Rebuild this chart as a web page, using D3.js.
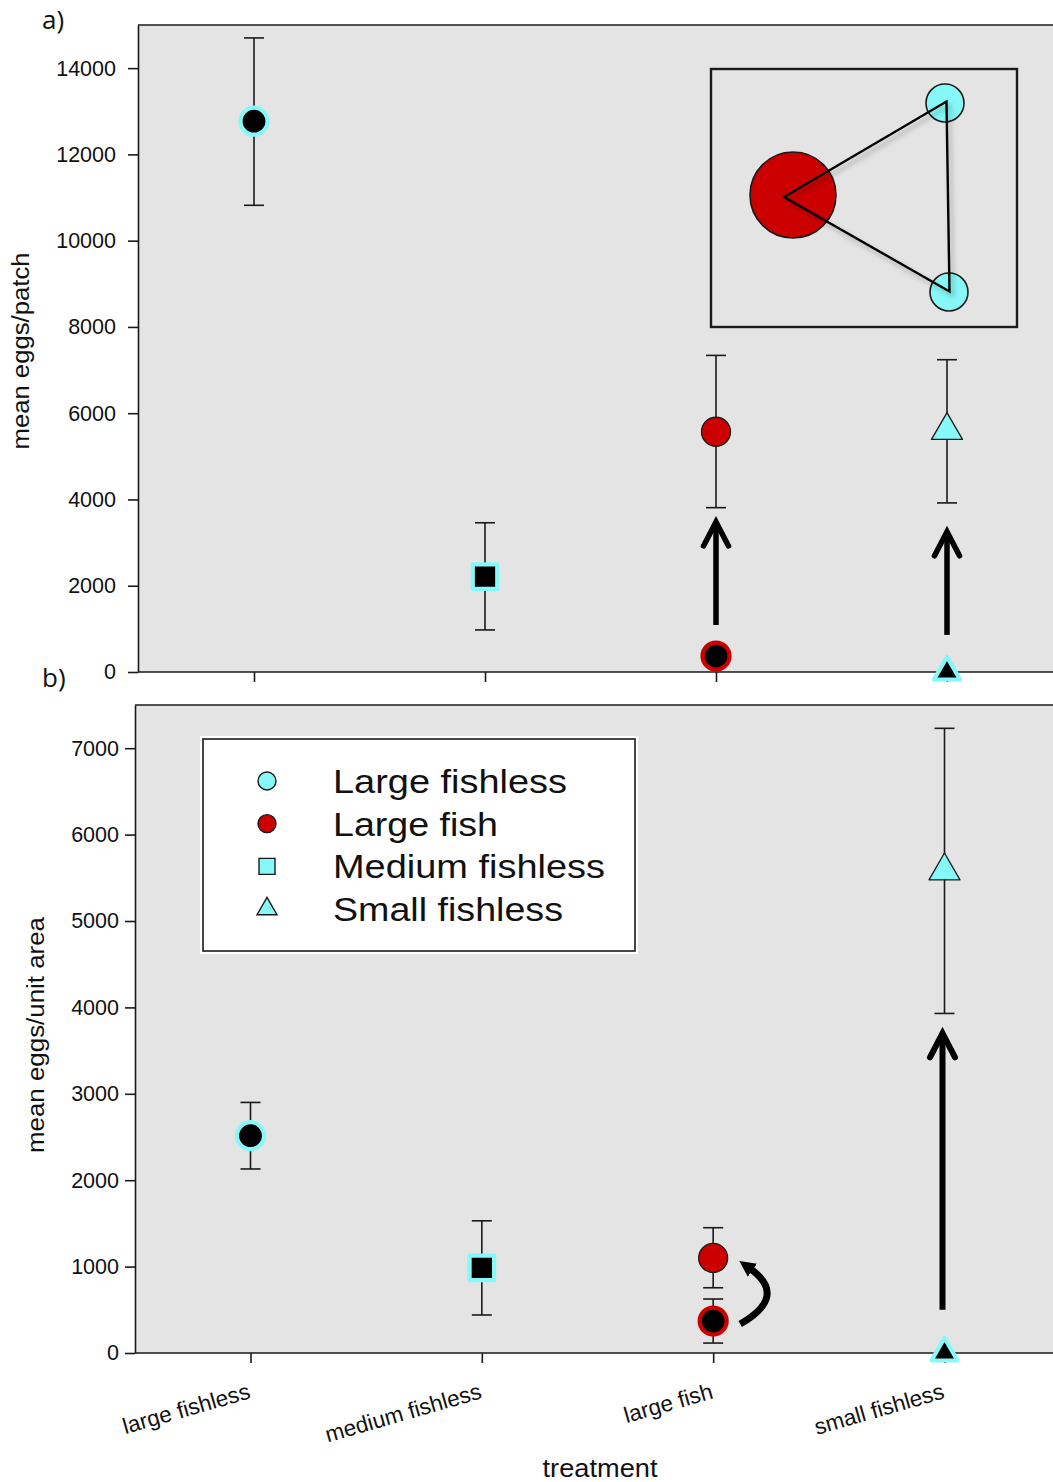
<!DOCTYPE html>
<html>
<head>
<meta charset="utf-8">
<script src="https://cdn.jsdelivr.net/npm/d3@7"></script>
<style>
  html, body { margin: 0; padding: 0; background: #ffffff; }
  svg { display: block; }
  text { font-family: "Liberation Sans", Arial, Helvetica, sans-serif; fill: #111; }
</style>
</head>
<body>
<svg id="chart" width="1053" height="1482"></svg>
<script>
// ---- data -------------------------------------------------------------
const treatments = ["large fishless", "medium fishless", "large fish", "small fishless"];
const seriesNames = ["Large fishless", "Large fish", "Medium fishless", "Small fishless"];

const patchTicks = [0, 2000, 4000, 6000, 8000, 10000, 12000, 14000];
const areaTicks = [0, 1000, 2000, 3000, 4000, 5000, 6000, 7000];

// a) mean eggs per patch (mean with lower / upper error limits)
const patchPoints = [
  { treatment: "large fishless",  series: "Large fishless",  kind: "base",  mean: 12770, low: 10820, high: 14700 },
  { treatment: "medium fishless", series: "Medium fishless", kind: "base",  mean: 2210,  low: 975,   high: 3460 },
  { treatment: "large fish",      series: "Large fish",      kind: "shift", mean: 5570,  low: 3810,  high: 7340 },
  { treatment: "large fish",      series: "Large fish",      kind: "base",  mean: 370,   low: null,  high: null },
  { treatment: "small fishless",  series: "Small fishless",  kind: "shift", mean: 5600,  low: 3920,  high: 7240 },
  { treatment: "small fishless",  series: "Small fishless",  kind: "base",  mean: 0,     low: null,  high: null }
];

// b) mean eggs per unit area
const areaPoints = [
  { treatment: "large fishless",  series: "Large fishless",  kind: "base",  mean: 2515, low: 2130, high: 2900 },
  { treatment: "medium fishless", series: "Medium fishless", kind: "base",  mean: 985,  low: 440,  high: 1530 },
  { treatment: "large fish",      series: "Large fish",      kind: "shift", mean: 1100, low: 755,  high: 1450 },
  { treatment: "large fish",      series: "Large fish",      kind: "base",  mean: 370,  low: 115,  high: 625 },
  { treatment: "small fishless",  series: "Small fishless",  kind: "shift", mean: 5580, low: 3930, high: 7230 },
  { treatment: "small fishless",  series: "Small fishless",  kind: "base",  mean: 0,    low: null, high: null }
];

// shift arrows (values on each panel's y scale)
const patchArrows = [
  { treatment: "large fish",     from: 1090, to: 3480 },
  { treatment: "small fishless", from: 860,  to: 3250 }
];
const areaArrows = [
  { treatment: "small fishless", from: 500, to: 3700 }
];
const areaCurves = [
  { treatment: "large fish", from: 370, to: 1100 }
];

// ---- styling ----------------------------------------------------------
const CYAN = "#86f8f8";
const RED = "#cc0000";
const INK = "#1a1a1a";

const seriesColor = d3.scaleOrdinal().domain(seriesNames).range([CYAN, RED, CYAN, CYAN]);
const seriesShape = d3.scaleOrdinal().domain(seriesNames)
  .range([d3.symbolCircle, d3.symbolCircle, d3.symbolSquare, d3.symbolTriangle]);

function markerSize(series, kind) {
  const shape = seriesShape(series);
  if (shape === d3.symbolCircle) return kind === "base" ? Math.PI * 13.5 * 13.5 : Math.PI * 14.5 * 14.5;
  if (shape === d3.symbolSquare) return 24.5 * 24.5;
  const side = kind === "base" ? 26 : 31;
  return Math.sqrt(3) / 4 * side * side;
}

const svg = d3.select("#chart");
const defs = svg.append("defs");
const shadow = defs.append("filter").attr("id", "lineShadow")
  .attr("x", "-20%").attr("y", "-20%").attr("width", "140%").attr("height", "140%");
shadow.append("feDropShadow").attr("dx", 3).attr("dy", 4).attr("stdDeviation", 2.5)
  .attr("flood-color", "#000").attr("flood-opacity", 0.28);

defs.append("marker").attr("id", "curveHead")
  .attr("markerUnits", "userSpaceOnUse")
  .attr("viewBox", "0 -8 16 16").attr("refX", 4).attr("refY", 0)
  .attr("markerWidth", 16).attr("markerHeight", 16).attr("orient", "auto")
  .append("path").attr("d", "M0,-8 L16,0 L0,8 Z").attr("fill", "#000");

// ---- panel builder -----------------------------------------------------
function drawPanel(cfg) {
  const { left, top, bottom, right, xRange, yMax, ticks, points, arrows, tickPad, arrowWidth, arrowShift } = cfg;
  const x = d3.scalePoint().domain(treatments).range(xRange);
  const y = d3.scaleLinear().domain([0, yMax]).range([bottom, top]);
  const g = svg.append("g");

  g.append("rect").attr("x", left).attr("y", top)
    .attr("width", right - left).attr("height", bottom - top).attr("fill", "#e4e4e4");

  // frame: top edge and bottom axis line
  g.append("line").attr("x1", left).attr("x2", right).attr("y1", top).attr("y2", top)
    .attr("stroke", INK).attr("stroke-width", 1.6);
  g.append("line").attr("x1", left).attr("x2", right).attr("y1", bottom).attr("y2", bottom)
    .attr("stroke", INK).attr("stroke-width", 1.6);

  const yAxis = g.append("g").attr("transform", `translate(${left},0)`)
    .call(d3.axisLeft(y).tickValues(ticks).tickFormat(d3.format("d"))
      .tickSize(10).tickSizeOuter(0).tickPadding(tickPad));
  yAxis.selectAll("path, line").attr("stroke", INK).attr("stroke-width", 1.6);
  yAxis.selectAll("text").style("font-size", "21.5px").attr("fill", "#111");

  const xAxis = g.append("g").attr("transform", `translate(0,${bottom})`)
    .call(d3.axisBottom(x).tickSize(10).tickSizeOuter(0).tickFormat(""));
  xAxis.select(".domain").remove();
  xAxis.selectAll("line").attr("stroke", INK).attr("stroke-width", 1.6);

  // error bars
  const bars = g.append("g").attr("stroke", INK).attr("stroke-width", 1.6).attr("fill", "none");
  points.filter(p => p.low !== null).forEach(p => {
    const cx = x(p.treatment);
    bars.append("line").attr("x1", cx).attr("x2", cx).attr("y1", y(p.low)).attr("y2", y(p.high));
    [p.low, p.high].forEach(v => {
      bars.append("line").attr("x1", cx - 10).attr("x2", cx + 10).attr("y1", y(v)).attr("y2", y(v));
    });
  });

  // markers
  g.append("g").selectAll("path").data(points).join("path")
    .attr("transform", p => `translate(${x(p.treatment)},${y(p.mean)})`)
    .attr("d", p => d3.symbol().type(seriesShape(p.series)).size(markerSize(p.series, p.kind))())
    .attr("fill", p => p.kind === "base" ? "#000" : seriesColor(p.series))
    .attr("stroke", p => p.kind === "base" ? seriesColor(p.series) : INK)
    .attr("stroke-width", p => p.kind === "base" ? 4.2 : 1.3)
    .attr("stroke-linejoin", "round");

  // straight shift arrows with open heads
  const ag = g.append("g").attr("fill", "none").attr("stroke", "#000")
    .attr("stroke-width", arrowWidth);
  arrows.forEach(a => {
    const ax = x(a.treatment) + arrowShift;
    const y0 = y(a.from), y1 = y(a.to);
    ag.append("line").attr("x1", ax).attr("x2", ax).attr("y1", y0).attr("y2", y1 + 2);
    ag.append("path")
      .attr("d", `M${ax - 12.5},${y1 + 24} L${ax},${y1} L${ax + 12.5},${y1 + 24}`)
      .attr("stroke-linecap", "round").attr("stroke-linejoin", "miter");
  });

  return { x, y, g };
}

// ---- a) eggs per patch -------------------------------------------------
const panelA = drawPanel({
  left: 138, top: 25, bottom: 672, right: 1053,
  xRange: [254, 947], yMax: 15000, ticks: patchTicks, points: patchPoints,
  arrows: patchArrows, tickPad: 12, arrowWidth: 5.5, arrowShift: 0
});

// inset: one large fish patch linked to two fishless patches
(function drawInset() {
  const ig = panelA.g.append("g");
  ig.append("rect").attr("x", 711).attr("y", 69).attr("width", 306).attr("height", 258)
    .attr("fill", "#e4e4e4").attr("stroke", INK).attr("stroke-width", 2.4);
  ig.append("circle").attr("cx", 793).attr("cy", 195).attr("r", 43)
    .attr("fill", RED).attr("stroke", INK).attr("stroke-width", 1.6);
  [[945, 103], [949, 292]].forEach(([cx, cy]) => {
    ig.append("circle").attr("cx", cx).attr("cy", cy).attr("r", 19)
      .attr("fill", CYAN).attr("stroke", INK).attr("stroke-width", 1.6);
  });
  ig.append("path").attr("d", "M784,197 L946.5,101.5 L949.5,291.5 Z")
    .attr("fill", "none").attr("stroke", "#000").attr("stroke-width", 2.4)
    .attr("stroke-linejoin", "miter").attr("filter", "url(#lineShadow)");
})();

svg.append("text").attr("x", 42).attr("y", 29)
  .style("font-family", "'Open Sans', 'Liberation Sans', sans-serif").style("font-size", "26px")
  .text("a)");

svg.append("text")
  .attr("transform", "translate(29,351) rotate(-90)")
  .attr("text-anchor", "middle").style("font-size", "23px")
  .attr("textLength", 197).attr("lengthAdjust", "spacingAndGlyphs")
  .text("mean eggs/patch");

// ---- b) eggs per unit area ---------------------------------------------
const panelB = drawPanel({
  left: 135, top: 705, bottom: 1353, right: 1053,
  xRange: [250.5, 944.5], yMax: 7500, ticks: areaTicks, points: areaPoints,
  arrows: areaArrows, tickPad: 6, arrowWidth: 6, arrowShift: -2
});

// curved arrow between the two large fish values
areaCurves.forEach(c => {
  const cx = panelB.x(c.treatment);
  const s = [cx + 27, panelB.y(c.from) + 3];
  const e = [cx + 36, panelB.y(c.to) + 10];
  const ctrl = [cx + 76, (s[1] + e[1]) / 2];
  panelB.g.append("path")
    .attr("d", `M${s[0]},${s[1]} Q${ctrl[0]},${ctrl[1]} ${e[0]},${e[1]}`)
    .attr("fill", "none").attr("stroke", "#000").attr("stroke-width", 7)
    .attr("marker-end", "url(#curveHead)");
});

svg.append("text").attr("x", 42).attr("y", 687)
  .style("font-family", "'Open Sans', 'Liberation Sans', sans-serif").style("font-size", "26px")
  .text("b)");

svg.append("text")
  .attr("transform", "translate(44,1035) rotate(-90)")
  .attr("text-anchor", "middle").style("font-size", "23px")
  .attr("textLength", 236).attr("lengthAdjust", "spacingAndGlyphs")
  .text("mean eggs/unit area");

// rotated category labels under the lower panel
svg.append("g").selectAll("text").data(treatments).join("text")
  .attr("transform", d => `translate(${panelB.x(d) + 1},1398) rotate(-16)`)
  .attr("text-anchor", "end").style("font-size", "22.5px")
  .text(d => d);

svg.append("text").attr("x", 600).attr("y", 1477)
  .attr("text-anchor", "middle").style("font-size", "25px")
  .attr("textLength", 115).attr("lengthAdjust", "spacingAndGlyphs")
  .text("treatment");

// ---- legend ------------------------------------------------------------
(function drawLegend() {
  const lg = panelB.g.append("g");
  lg.append("rect").attr("x", 200).attr("y", 736).attr("width", 438).attr("height", 218)
    .attr("fill", "#fff");
  lg.append("rect").attr("x", 203).attr("y", 739).attr("width", 432).attr("height", 212)
    .attr("fill", "#fff").attr("stroke", INK).attr("stroke-width", 1.6);
  const rowY = d3.scalePoint().domain(seriesNames).range([781, 909]);
  const rows = lg.selectAll("g.row").data(seriesNames).join("g")
    .attr("transform", d => `translate(0,${rowY(d)})`);
  rows.append("path")
    .attr("transform", "translate(267,0)")
    .attr("d", d => {
      const shape = seriesShape(d);
      const size = shape === d3.symbolCircle ? Math.PI * 81 : shape === d3.symbolSquare ? 256 : Math.sqrt(3) / 4 * 400;
      return d3.symbol().type(shape).size(size)();
    })
    .attr("fill", d => seriesColor(d)).attr("stroke", INK).attr("stroke-width", 1.4);
  const widths = [234, 165, 272, 230];
  rows.append("text").attr("x", 333).attr("y", 12)
    .style("font-size", "33px")
    .attr("textLength", (d, i) => widths[i]).attr("lengthAdjust", "spacingAndGlyphs")
    .text(d => d);
})();
</script>
</body>
</html>
